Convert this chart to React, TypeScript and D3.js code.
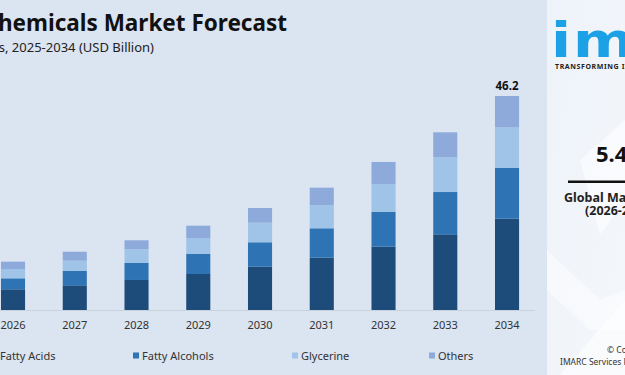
import React from "react";
import * as d3 from "d3";

const years = ["2025", "2026", "2027", "2028", "2029", "2030", "2031", "2032", "2033", "2034"];
const fattyAcids = [3.75, 4.47, 5.33, 6.48, 7.77, 9.35, 11.29, 13.67, 16.34, 19.71];
const fattyAlcohols = [2.0, 2.37, 3.09, 3.67, 4.32, 5.27, 6.35, 7.56, 9.13, 11.01];
const glycerine = [1.7, 2.01, 2.22, 2.96, 3.45, 4.23, 4.97, 5.98, 7.49, 8.7];
const others = [1.35, 1.58, 1.94, 1.94, 2.66, 3.17, 3.8, 4.75, 5.4, 6.78];
const seriesNames = ["Fatty Acids", "Fatty Alcohols", "Glycerine", "Others"];
const seriesColors = ["#1d4c7a", "#2e74b5", "#9fc4e8", "#8eaadb"];
const totalLabel = "46.2";

const W = 625;
const H = 375;
const FONT = "'Noto Sans', Inter, sans-serif";

export default function App() {
  const rows = years.map((y, i) => ({
    year: y,
    "Fatty Acids": fattyAcids[i],
    "Fatty Alcohols": fattyAlcohols[i],
    Glycerine: glycerine[i],
    Others: others[i],
  }));
  const stacked = d3.stack<any>().keys(seriesNames)(rows);
  const x = d3
    .scaleBand<string>()
    .domain(years)
    .range([-79.6, 537.9])
    .paddingInner(0.61)
    .paddingOuter(0.305);
  const y = d3.scaleLinear().domain([0, 46.2]).range([310, 96]);
  const color = d3.scaleOrdinal<string, string>().domain(seriesNames).range(seriesColors);
  const lastYear = years[years.length - 1];
  const lastTotal = fattyAcids[9] + fattyAlcohols[9] + glycerine[9] + others[9];

  const legendX = [-9, 133, 292, 429];

  return (
    <svg
      width={W}
      height={H}
      style={{ position: "fixed", left: 0, top: 0, display: "block" }}
      fontFamily={FONT}
    >
      <defs>
        <linearGradient id="panel" x1="0" y1="0" x2="1" y2="1">
          <stop offset="0" stopColor="#eef3f9" />
          <stop offset="1" stopColor="#f4f7fb" />
        </linearGradient>
      </defs>
      <rect x={0} y={0} width={W} height={H} fill="#dbe4f1" />

      {/* title */}
      <text x={287} y={31} textAnchor="end" fontSize={22.5} fontWeight={700} fill="#111">
        Oleochemicals Market Forecast
      </text>
      <text x={154} y={52} textAnchor="end" fontSize={13} fill="#222">
        Market Size by Products, 2025-2034 (USD Billion)
      </text>

      {/* baseline */}
      <line x1={0} x2={535} y1={310.5} y2={310.5} stroke="#c9d1dc" strokeWidth={1} />

      {/* bars */}
      {stacked.map((s) => (
        <g key={s.key} fill={color(s.key)}>
          {s.map((d: any) => (
            <rect
              key={d.data.year}
              x={x(d.data.year)}
              width={x.bandwidth()}
              y={y(d[1])}
              height={y(d[0]) - y(d[1])}
            />
          ))}
        </g>
      ))}

      <text
        x={(x(lastYear) as number) + x.bandwidth() / 2}
        y={y(lastTotal) - 6}
        textAnchor="middle"
        fontSize={11.5}
        fontWeight={700}
        fill="#111"
      >
        {totalLabel}
      </text>

      {/* x labels */}
      {years.map((yr) => (
        <text
          key={yr}
          x={(x(yr) as number) + x.bandwidth() / 2}
          y={329}
          textAnchor="middle"
          fontSize={11}
          fill="#333"
        >
          {yr}
        </text>
      ))}

      {/* legend */}
      {seriesNames.map((n, i) => (
        <g key={n}>
          <rect x={legendX[i]} y={352.5} width={6} height={6} fill={seriesColors[i]} />
          <text x={legendX[i] + 9} y={359.5} fontSize={11} fill="#333">
            {n}
          </text>
        </g>
      ))}

      {/* right panel */}
      <rect x={547} y={0} width={78} height={H} fill="url(#panel)" />
      <polygon points="580,160 625,120 625,200 600,235" fill="#ffffff" opacity={0.5} />
      <polygon points="547,250 600,300 625,290 625,330 590,330 547,290" fill="#ffffff" opacity={0.45} />
      <polygon points="560,375 625,300 625,375" fill="#ffffff" opacity={0.5} />
      <text
        transform="translate(551,57) scale(1.22,1)"
        fontSize={48}
        fontWeight={700}
        fill="#1da1e6"
        fontFamily="'DejaVu Sans', sans-serif"
        letterSpacing={1.5}
      >
        imarc
      </text>
      <text x={555} y={69} fontSize={7} fontWeight={700} fill="#222" letterSpacing={0.6}>
        TRANSFORMING IDEAS
      </text>
      <text x={596} y={162} fontSize={22} fontWeight={700} fill="#111">
        5.4%
      </text>
      <rect x={568} y={180.5} width={57} height={2.5} fill="#111" />
      <text x={564} y={202} fontSize={12.5} fontWeight={700} fill="#222">
        Global Market
      </text>
      <text x={585} y={215} fontSize={12.5} fontWeight={700} fill="#222">
        (2026-2034)
      </text>
      <text x={607} y={353} fontSize={8.5} fill="#333">
        © Copyright
      </text>
      <text x={560} y={365} fontSize={8.5} fill="#333">
        IMARC Services Pvt Ltd
      </text>
    </svg>
  );
}
